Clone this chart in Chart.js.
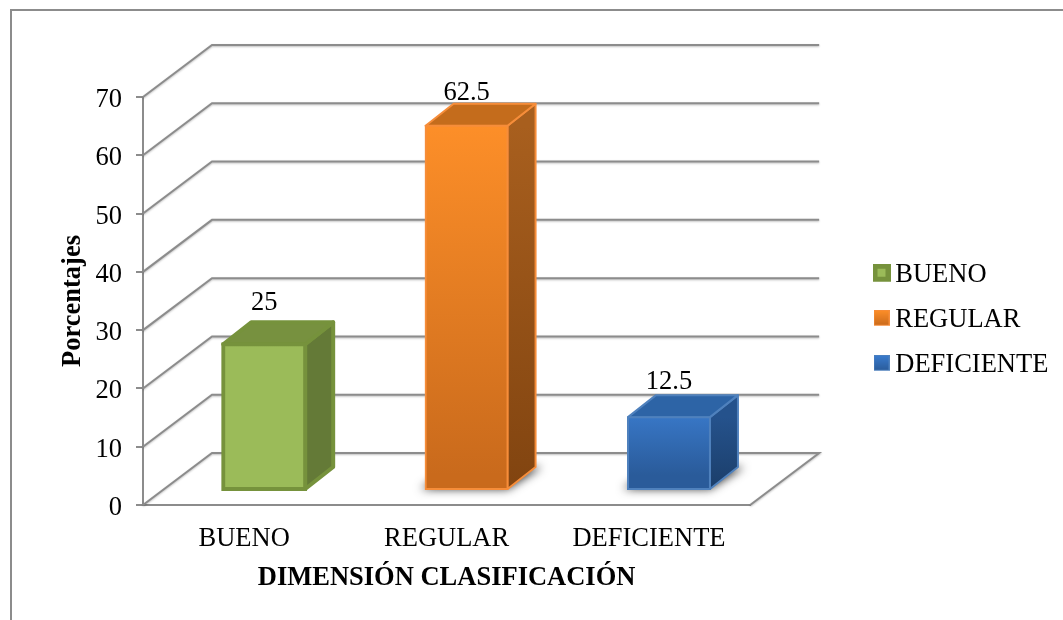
<!DOCTYPE html>
<html>
<head>
<meta charset="utf-8">
<title>Dimensión clasificación</title>
<script src="https://cdn.jsdelivr.net/npm/chart.js@4"></script>
<style>
    html, body { margin: 0; padding: 0; background: #fff; overflow: hidden; }
    #marco { position: absolute; left: 10px; top: 9px; width: 1060px; height: 620px; border: 2px solid #8c8c8c; box-sizing: border-box; }
    canvas { position: absolute; left: 0; top: 0; }
</style>
</head>
<body>
<div id="marco"></div>
<canvas id="clasificacionChart" width="1063" height="620"></canvas>
<script>
const categorias = ["BUENO", "REGULAR", "DEFICIENTE"];
const porcentajes = [25, 62.5, 12.5];
const etiquetas = ["25", "62.5", "12.5"];
const ejeY = [0, 10, 20, 30, 40, 50, 60, 70];

// estilos de cada barra
const colorFrente = [["#9bbb59", "#9bbb59"], ["#ff9029", "#c96a1c"], ["#3b7dd0", "#2a5b9a"]];
const colorBorde = ["#76923c", "#f68d3a", "#4f81bd"];
const anchoBorde = [4, 2, 2];
const colorTapa = ["#77913f", "#c46c1c", "#2d64a6"];
const colorLado = [["#647a37", "#647a37"], ["#a85f1e", "#814410"], ["#25528c", "#1b3e6a"]];
const conSombra = [false, true, true];
const subidaEtiqueta = [41, 33, 35];

// perspectiva: fondo del grafico, frente de la barra y profundidad de la barra
const fondoX = 69, fondoY = 52;
const frenteX = 20, frenteY = 15;
const ladoX = 28, ladoY = 22;
const colorLinea = "#8c8c8c";

Chart.defaults.font.family = "'Liberation Serif', serif";
Chart.defaults.font.size = 26.5;
Chart.defaults.color = "#000";

function poligono(ctx, puntos) {
    ctx.beginPath();
    puntos.forEach((p, i) => i ? ctx.lineTo(p[0], p[1]) : ctx.moveTo(p[0], p[1]));
    ctx.closePath();
}

function degradado(ctx, y0, y1, colores) {
    const g = ctx.createLinearGradient(0, y0, 0, y1);
    g.addColorStop(0, colores[0]);
    g.addColorStop(1, colores[1]);
    return g;
}

function muestra(i) {
    const c = document.createElement("canvas");
    const lado = i === 0 ? 18 : 16;
    c.width = lado;
    c.height = lado + 5;
    const g = c.getContext("2d");
    g.fillStyle = colorBorde[i];
    g.fillRect(0, 0, lado, lado);
    const b = i === 0 ? 5 : 1;
    g.fillStyle = degradado(g, 0, lado, colorFrente[i]);
    g.fillRect(b, b, lado - 2 * b, lado - 2 * b);
    return c;
}

const barras3d = {
    id: "barras3d",
    afterLayout(chart) {
        // la leyenda va separada del area del grafico
        const leyenda = chart.legend;
        const pad = leyenda.options.labels.padding;
        leyenda.left = 881 - pad;
        leyenda.right = 1063;
        leyenda.top = 262 - pad;
        leyenda.bottom = 620;
    },
    beforeDatasetsDraw(chart) {
        const ctx = chart.ctx;
        const area = chart.chartArea;
        const y = chart.scales.y;
        ctx.save();
        ctx.strokeStyle = colorLinea;
        ctx.lineWidth = 2;
        ctx.shadowColor = "rgba(0,0,0,0.25)";
        ctx.shadowBlur = 2;
        ctx.shadowOffsetY = 1;
        y.ticks.forEach((t) => {
            const py = y.getPixelForValue(t.value);
            ctx.beginPath();
            ctx.moveTo(area.left, py);
            ctx.lineTo(area.left + fondoX, py - fondoY);
            ctx.lineTo(area.right + fondoX, py - fondoY);
            if (t.value === 0) {
                ctx.lineTo(area.right, py);
            }
            ctx.stroke();
        });
        ctx.restore();
    },
    beforeDatasetDraw(chart, args) {
        const ctx = chart.ctx;
        args.meta.data.forEach((bar, i) => {
            const izq = bar.x - bar.width / 2 + frenteX;
            const der = bar.x + bar.width / 2 + frenteX;
            const arriba = bar.y - frenteY;
            const abajo = bar.base - frenteY;
            ctx.save();
            if (conSombra[i]) {
                // solo la sombra difusa: la forma queda fuera del canvas
                ctx.save();
                ctx.shadowColor = "rgba(0,0,0,0.8)";
                ctx.shadowBlur = 10;
                ctx.shadowOffsetX = 3000;
                ctx.fillStyle = "#000";
                poligono(ctx, [[izq - 3000 - 5, abajo], [der - 3000, abajo], [der + ladoX - 3000 + 6, abajo - ladoY], [izq + ladoX - 3000, abajo - ladoY]]);
                ctx.fill();
                ctx.restore();
            }
            ctx.strokeStyle = colorBorde[i];
            ctx.lineWidth = anchoBorde[i];
            ctx.lineJoin = "round";
            ctx.fillStyle = degradado(ctx, arriba, abajo, colorLado[i]);
            poligono(ctx, [[der, arriba], [der + ladoX, arriba - ladoY], [der + ladoX, abajo - ladoY], [der, abajo]]);
            ctx.fill();
            ctx.stroke();
            ctx.fillStyle = colorTapa[i];
            poligono(ctx, [[izq, arriba], [izq + ladoX, arriba - ladoY], [der + ladoX, arriba - ladoY], [der, arriba]]);
            ctx.fill();
            ctx.stroke();
            ctx.restore();
        });
        // el frente lo dibuja la propia barra, corrida hacia el fondo
        ctx.save();
        ctx.translate(frenteX, -frenteY);
    },
    afterDatasetDraw(chart) {
        chart.ctx.restore();
    },
    afterDatasetsDraw(chart) {
        const ctx = chart.ctx;
        ctx.save();
        ctx.fillStyle = "#000";
        ctx.font = "26.5px 'Liberation Serif'";
        ctx.textAlign = "center";
        ctx.textBaseline = "middle";
        chart.getDatasetMeta(0).data.forEach((bar, i) => {
            ctx.fillText(etiquetas[i], bar.x + frenteX, bar.y - frenteY - subidaEtiqueta[i]);
        });
        ctx.restore();
    },
};

new Chart(document.getElementById("clasificacionChart"), {
    type: "bar",
    plugins: [barras3d],
    data: {
        labels: categorias,
        datasets: [
            {
                data: porcentajes,
                clip: false,
                backgroundColor(c) {
                    const y = c.chart.scales.y;
                    if (!y || c.dataIndex === undefined) return colorFrente[0][0];
                    return degradado(c.chart.ctx, y.getPixelForValue(porcentajes[c.dataIndex]) - frenteY, y.getPixelForValue(0) - frenteY, colorFrente[c.dataIndex]);
                },
                borderColor: colorBorde,
                borderWidth: anchoBorde,
                borderSkipped: false,
                inflateAmount: [2, 1, 1],
                barPercentage: 0.405,
                categoryPercentage: 1,
            },
        ],
    },
    options: {
        responsive: false,
        animation: false,
        layout: {
            padding: { left: 40, top: 97, right: 117, bottom: 25 },
        },
        plugins: {
            tooltip: { enabled: false },
            legend: {
                position: "right",
                align: "start",
                labels: {
                    usePointStyle: true,
                    boxWidth: 1,
                    padding: 18.5,
                    generateLabels() {
                        return categorias.map((nombre, i) => ({
                            text: nombre,
                            pointStyle: muestra(i),
                            fillStyle: colorFrente[i][0],
                            strokeStyle: colorBorde[i],
                            lineWidth: 0,
                            hidden: false,
                            index: i,
                        }));
                    },
                },
            },
        },
        scales: {
            x: {
                afterFit(scale) { scale.height = 90; },
                grid: { display: false, drawTicks: false },
                border: { color: colorLinea, width: 2 },
                ticks: { padding: 18, maxRotation: 0 },
                title: {
                    display: true,
                    text: "DIMENSIÓN CLASIFICACIÓN",
                    font: { size: 26.5, weight: "bold" },
                    padding: { top: 0, bottom: 1 },
                },
            },
            y: {
                min: 0,
                max: 70,
                afterFit(scale) { scale.width = 103; },
                afterBuildTicks(scale) { scale.ticks = ejeY.map((v) => ({ value: v })); },
                grid: { drawOnChartArea: false, tickLength: 7, color: colorLinea, lineWidth: 2 },
                border: { color: colorLinea, width: 2 },
                ticks: { padding: 14, labelOffset: 3 },
                title: {
                    display: true,
                    text: "Porcentajes",
                    font: { size: 26.5, weight: "bold" },
                    padding: { top: 17, bottom: 0 },
                },
            },
        },
    },
});
</script>
</body>
</html>
